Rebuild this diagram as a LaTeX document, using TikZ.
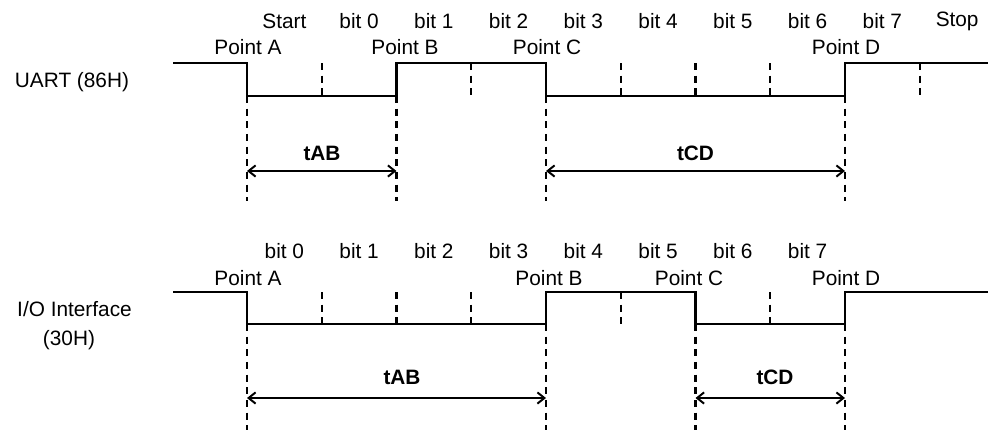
\documentclass[tikz,border=0pt]{standalone}
\usepackage{fontspec}
\setmainfont{Liberation Sans}
\usetikzlibrary{arrows.meta}
\begin{document}
\begin{tikzpicture}[x=0.025cm, y=-0.025cm,
	wave/.style={line width=1.5pt},
	tick/.style={line width=1.5pt, dash pattern=on 5pt off 4pt},
	span/.style={line width=1.4pt, {Straight Barb[length=5pt,width=8pt]}-{Straight Barb[length=5pt,width=8pt]}},
	lbl/.style={font=\fontsize{14.8}{17}\selectfont, inner sep=0pt},
	bold/.style={lbl, font=\fontsize{14.8}{17}\selectfont\bfseries}]
	\useasboundingbox (0,0) rectangle (988,430);
	
	% UART (86H)
	\node[lbl] (uart) at (72,82) {UART (86H)};
	\foreach \t [count=\k from 0] in {Start, bit 0, bit 1, bit 2, bit 3, bit 4, bit 5, bit 6, bit 7, Stop}{
		\node[lbl] (ubit\k) at ({284.4+74.75*\k},21) {\t};
	}
	\coordinate (uA) at (247,96);
	\coordinate (uB) at (396.5,96);
	\coordinate (uC) at (546,96);
	\coordinate (uD) at (845,96);
	\node[lbl] (uptA) at (248,47) {Point A};
	\node[lbl] (uptB) at (405,47) {Point B};
	\node[lbl] (uptC) at (547,47) {Point C};
	\node[lbl] (uptD) at (846,47) {Point D};
	\draw[wave] (173,63) -| (uA) -- (uB) |- (uC |- 0,63) -- (uC) -- (uD) |- (988,63);
	\foreach \x in {321.75, 471.25, 620.75, 695.5, 770.25, 919.75}{
		\draw[tick] (\x,63) -- (\x,96);
	}
	\foreach \p in {uA, uB, uC, uD}{
		\draw[tick] (\p) -- (\p |- 0,201);
	}
	% spans
	\draw[span] (uA |- 0,171) coordinate (uAs) -- (uB |- 0,171) coordinate (uBs);
	\draw[span] (uC |- 0,171) coordinate (uCs) -- (uD |- 0,171) coordinate (uDs);
	\node[bold] (utab) at (322,153) {tAB};
	\node[bold] (utcd) at (695.5,153) {tCD};
	
	% I/O Interface (30H)
	\node[lbl] (io) at (74.5,309) {I/O Interface};
	\node[lbl] (iohex) at (69,340) {(30H)};
	\foreach \k in {0,...,7}{
		\node[lbl] (ibit\k) at ({284.4+74.75*\k},251) {bit \k};
	}
	\coordinate (iA) at (247,324);
	\coordinate (iB) at (546,324);
	\coordinate (iC) at (695.5,324);
	\coordinate (iD) at (845,324);
	\node[lbl] (iptA) at (248,278) {Point A};
	\node[lbl] (iptB) at (549,278) {Point B};
	\node[lbl] (iptC) at (689,278) {Point C};
	\node[lbl] (iptD) at (846,278) {Point D};
	\draw[wave] (173,292) -| (iA) -- (iB) |- (iC |- 0,292) -- (iC) -- (iD) |- (988,292);
	\foreach \x in {321.75, 396.5, 471.25, 620.75, 770.25}{
		\draw[tick] (\x,292) -- (\x,324);
	}
	\foreach \p in {iA, iB, iC, iD}{
		\draw[tick] (\p) -- (\p |- 0,430);
	}
	% spans
	\draw[span] (iA |- 0,398) coordinate (iAs) -- (iB |- 0,398) coordinate (iBs);
	\draw[span] (iC |- 0,398) coordinate (iCs) -- (iD |- 0,398) coordinate (iDs);
	\node[bold] (itab) at (402,377) {tAB};
	\node[bold] (itcd) at (775,377) {tCD};
\end{tikzpicture}
\end{document}
